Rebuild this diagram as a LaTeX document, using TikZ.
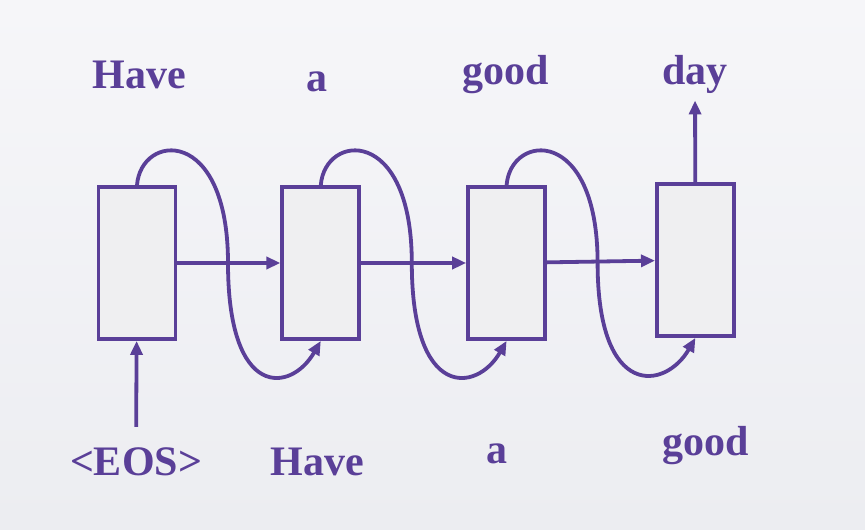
\documentclass[tikz,border=0pt]{standalone}
\usepackage{fontspec}
\setmainfont{Liberation Serif}
\usepackage{xcolor}
\usetikzlibrary{arrows.meta,positioning,calc}
\definecolor{seqpurple}{HTML}{5A3F98}
\definecolor{cellfill}{HTML}{EFEFF1}
\definecolor{slidetop}{HTML}{F6F6F9}
\definecolor{slidebot}{HTML}{ECEDF1}
\tikzset{
  cell/.style={draw=seqpurple, line width=1.9pt, fill=cellfill,
               minimum width=38.5pt, minimum height=76pt, inner sep=0pt},
  word/.style={text=seqpurple, font=\fontsize{21}{24}\selectfont\bfseries,
               inner sep=1pt, anchor=base},
  flow/.style={-{Triangle[length=7pt,width=6pt]}, draw=seqpurple, line width=1.9pt},
}
\begin{document}
\begin{tikzpicture}[x=0.5pt, y=0.5pt, node distance=51.5pt]
\shade[top color=slidetop, bottom color=slidebot] (0,0) rectangle (865,529);
\useasboundingbox (0,0) rectangle (865,529);
% cells
\node[cell] (c1) at (137,266) {};
\node[cell, right=of c1] (c2) {};
\node[cell, right=52.5pt of c2] (c3) {};
\node[cell, right=54pt of c3, yshift=1.5pt] (c4) {};
% outputs
\node[word] (o1) at (139,440) {Have};
\node[word] (o2) at (317,437) {a};
\node[word] (o3) at (506,444) {good};
\node[word] (o4) at (695,444) {day};
% inputs
\node[word] (eos) at (136,54) {<EOS>};
\node[word] (i2) at (317,54) {Have};
\node[word] (i3) at (497,66) {a};
\node[word] (i4) at (706,74) {good};
\draw[flow] (c1) -- (c2); \draw[flow] (c2) -- (c3); \draw[flow] (c3) -- (c4);
\draw[flow, shorten <=9pt] (eos) -- (c1);
\draw[flow, shorten >=2pt] (c4) -- (o4);
% output fed back as next input
\foreach \a/\b in {c1/c2,c2/c3,c3/c4}
  \draw[flow] (\a.north) .. controls +(4,52) and +(0,138) .. ($(\a.north)+(91,-78)$)
    .. controls +(0,-137) and +(-30,-52) .. (\b.south);
\end{tikzpicture}
\end{document}
